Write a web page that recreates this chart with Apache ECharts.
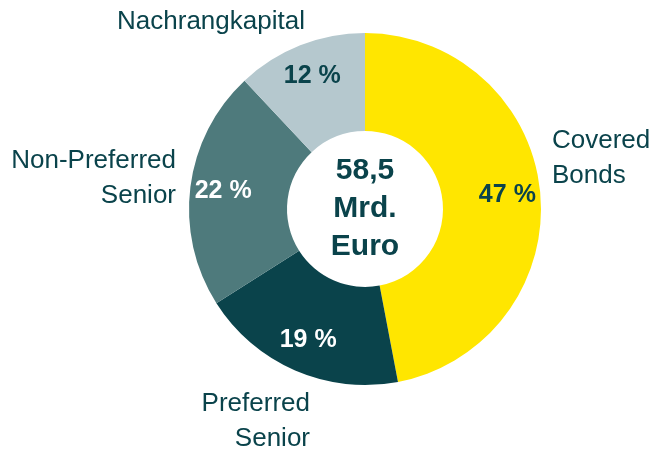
<!DOCTYPE html>
<html>
<head>
<meta charset="utf-8">
<script src="https://cdn.jsdelivr.net/npm/echarts@6/dist/echarts.min.js"></script>
<style>
  html, body { margin: 0; padding: 0; background: #ffffff; }
  #chart { width: 654px; height: 449px; }
</style>
</head>
<body>
<div id="chart"></div>
<script>
// Funding mix by instrument (share in %)
const categories = ['Covered\nBonds', 'Preferred\nSenior', 'Non-Preferred\nSenior', 'Nachrangkapital'];
const shares = [47, 19, 22, 12];
const totalLabel = '58,5\nMrd.\nEuro';

const sliceColors = ['#FFE600', '#0A434B', '#4E7A7C', '#B5C8CE'];
const valueColors = ['#0A434B', '#ffffff', '#ffffff', '#0A434B'];
const textColor = '#0A434B';
const fontFamily = '"Liberation Sans", Arial, Helvetica, sans-serif';

// Placement of the category names around the ring
const namePlacement = [
  { x: 552, y: 158, align: 'left' },
  { x: 310, y: 421, align: 'right' },
  { x: 176, y: 178, align: 'right' },
  { x: 211, y: 22, align: 'center' }
];

const chart = echarts.init(document.getElementById('chart'), null, { renderer: 'canvas' });

const ringData = categories.map((c, i) => ({
  name: c,
  value: shares[i],
  itemStyle: { color: sliceColors[i] }
}));

const valueData = categories.map((c, i) => ({
  name: c,
  value: shares[i],
  label: { color: valueColors[i] }
}));

chart.setOption({
  animation: false,
  backgroundColor: '#ffffff',
  series: [
    {
      type: 'pie',
      center: [365, 209],
      radius: [78, 176],
      startAngle: 90,
      clockwise: true,
      silent: true,
      data: ringData,
      label: {
        show: true,
        position: 'outside',
        formatter: p => p.name,
        color: textColor,
        fontFamily: fontFamily,
        fontSize: 26,
        lineHeight: 35,
        overflow: 'none'
      },
      labelLine: { show: false },
      labelLayout: params => {
        const pl = namePlacement[params.dataIndex];
        return { x: pl.x, y: pl.y, align: pl.align, verticalAlign: 'middle' };
      }
    },
    {
      // transparent ring carrying the percentage labels
      type: 'pie',
      center: [365, 209],
      radius: [104, 176],
      startAngle: 90,
      clockwise: true,
      silent: true,
      itemStyle: { color: 'rgba(0,0,0,0)' },
      data: valueData,
      label: {
        show: true,
        position: 'inside',
        formatter: p => p.value + ' %',
        fontFamily: fontFamily,
        fontWeight: 'bold',
        fontSize: 25,
        overflow: 'none'
      },
      labelLine: { show: false }
    }
  ],
  graphic: [
    {
      type: 'text',
      x: 365,
      y: 209,
      style: {
        text: totalLabel,
        align: 'center',
        verticalAlign: 'middle',
        fill: textColor,
        font: 'bold 30px ' + fontFamily,
        lineHeight: 38
      }
    }
  ]
});
</script>
</body>
</html>
